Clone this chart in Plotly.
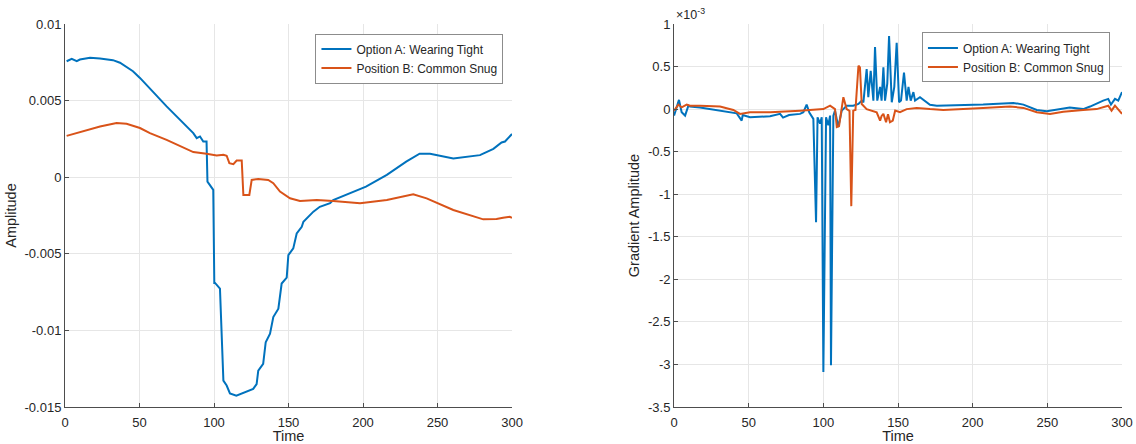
import plotly.graph_objects as go
from plotly.subplots import make_subplots

# ---------------- Left panel: Amplitude ----------------
amp_a_time = [1.1, 4.5, 7.9, 10, 16.8, 23.5, 32.2, 36.9, 45.6, 50.3, 68.2, 77.2, 86.1, 88.4,
              90.6, 92.8, 95, 95.6, 96.5, 99.5, 100.2, 100.7, 104, 106.3, 108.5, 110.7, 115,
              126.3, 128.6, 129.7, 133, 134.7, 137.6, 139.8, 143.2, 145.4, 148.8, 149.9, 153.2,
              155.5, 158.9, 160, 166.7, 171, 177.9, 180, 202, 216, 229, 238, 245, 260.6, 278.5,
              287.5, 293, 295.3, 300]
amp_a = [0.00757, 0.00773, 0.00757, 0.00768, 0.00779, 0.00775, 0.00764, 0.00747, 0.00692,
         0.00648, 0.00462, 0.00375, 0.00288, 0.00255, 0.00266, 0.00233, 0.00233, -0.00029,
         -0.00040, -0.00083, -0.0069, -0.0069, -0.00727, -0.01328, -0.0136, -0.01411, -0.01426,
         -0.01382, -0.0135, -0.01262, -0.01218, -0.01077, -0.01022, -0.00913, -0.00858,
         -0.00694, -0.00655, -0.00509, -0.00465, -0.00367, -0.00324, -0.00291, -0.00225,
         -0.00193, -0.0017, -0.00149, -0.00062, 0.00015, 0.00102, 0.00153, 0.00153, 0.00122,
         0.00144, 0.00185, 0.00227, 0.00233, 0.00282]

amp_b_time = [1.1, 7.9, 14.6, 23.5, 34.6, 41.3, 50.3, 57, 68.2, 79.4, 86.1, 95, 101.8, 106.3,
              108.5, 110.3, 113, 115.2, 118.6, 119.7, 123.7, 125.3, 129.7, 136.4, 139.8, 144.3,
              151, 157.7, 164.4, 169, 180, 198, 216, 233.7, 242.7, 260.6, 280.7, 289.6, 294,
              298.5, 300]
amp_b = [0.0027, 0.00288, 0.0031, 0.00331, 0.00354, 0.00349, 0.00321, 0.00288, 0.00244,
         0.00194, 0.00164, 0.00153, 0.00142, 0.00146, 0.0014, 0.00092, 0.00085, 0.00109,
         0.00109, -0.00116, -0.00116, -0.00018, -0.00011, -0.00018, -0.00039, -0.00094,
         -0.00138, -0.00155, -0.00151, -0.00149, -0.00155, -0.0017, -0.00149, -0.00111,
         -0.00138, -0.00214, -0.00275, -0.00273, -0.00265, -0.00258, -0.00265]

# ---------------- Right panel: Gradient amplitude (x 1e-3) ----------------
grad_a_time = [0, 3.3, 5.1, 7.4, 9.6, 10.7, 17.4, 30.8, 42, 45.3, 46, 50.9, 64.3, 71, 73, 77,
               84.4, 86.6, 88.8, 90.6, 92.2, 93.3, 95.1, 96.1, 97.8, 98.9, 100, 101.8, 103.3,
               104.5, 105.1, 106.7, 107.8, 110, 112.3, 115.6, 120, 123.5, 125.7, 126.8, 129,
               130.1, 131.7, 133.5, 134.6, 136.1, 138, 139, 140.2, 141.3, 142.8, 144, 145.8,
               147.5, 149.1, 150.7, 152, 154, 155.8, 157, 158.5, 160.3, 161.4, 164.7, 171.4,
               176, 207, 220.5, 227.2, 234, 242.9, 249.6, 265, 274, 278.6, 287.4, 290.8, 292.6,
               295.3, 297.5, 300]
grad_a = [-0.076, 0.108, -0.037, -0.076, 0.04, 0.03, 0.02, -0.018, -0.05, -0.135, -0.07,
          -0.096, -0.084, -0.056, -0.1, -0.07, -0.056, -0.037, 0.053, -0.04, -0.096, -0.115,
          -1.33, -0.096, -0.17, -0.096, -3.09, -0.096, -0.19, -0.076, -3.01, -0.076, -0.018,
          -0.21, -0.018, 0.04, 0.04, 0.06, 0.1, 0.08, 0.47, 0.14, 0.45, 0.1, 0.73, 0.1, 0.26,
          0.1, 0.49, 0.1, 0.3, 0.86, 0.08, 0.26, 0.78, 0.08, 0.1, 0.43, 0.1, 0.26, 0.1, 0.2,
          0.1, 0.14, 0.05, 0.04, 0.053, 0.07, 0.073, 0.053, -0.01, -0.025, 0.02, 0.0, 0.03,
          0.1, 0.12, 0.053, 0.12, 0.1, 0.2]

grad_b_time = [0, 2.9, 5.1, 8.5, 10.7, 17.4, 30.8, 39.7, 44.2, 50.9, 64.3, 77.7, 84.4, 91,
               100, 104.5, 107.8, 109, 110.5, 113.4, 115.6, 117.5, 118.7, 120, 121.5, 123.5,
               124.5, 125.7, 129, 135.7, 138, 139, 140.2, 142, 143.3, 144.6, 146.5, 148.1,
               151.3, 155.8, 162.5, 171.4, 180.3, 207, 225, 234, 242.9, 251.8, 260.7, 274, 283,
               290.8, 293, 295.3, 300]
grad_b = [-0.018, 0.053, 0.02, 0.053, 0.04, 0.04, 0.03, -0.01, -0.056, -0.037, -0.037, -0.03,
          -0.018, -0.01, 0.0, 0.04, 0.0, -0.21, -0.2, 0.14, 0.0, -0.02, -1.14, -0.018, -0.01,
          0.51, 0.49, 0.06, 0.0, -0.037, -0.135, -0.08, -0.056, -0.155, -0.06, -0.155,
          -0.135, -0.018, -0.037, 0.0, 0.014, 0.0, -0.01, 0.014, 0.03, 0.014, -0.037, -0.056,
          -0.03, -0.01, 0.0, 0.04, -0.018, 0.04, -0.056]

name_a = "Option A: Wearing Tight"
name_b = "Position B: Common Snug"
blue = "#0072BD"
orange = "#D95319"

fig = make_subplots(rows=1, cols=2)

fig.add_trace(go.Scatter(x=amp_a_time, y=amp_a, mode="lines", name=name_a,
                         line=dict(color=blue, width=2), legend="legend"), row=1, col=1)
fig.add_trace(go.Scatter(x=amp_b_time, y=amp_b, mode="lines", name=name_b,
                         line=dict(color=orange, width=2), legend="legend"), row=1, col=1)
fig.add_trace(go.Scatter(x=grad_a_time, y=grad_a, mode="lines", name=name_a,
                         line=dict(color=blue, width=2), legend="legend2"), row=1, col=2)
fig.add_trace(go.Scatter(x=grad_b_time, y=grad_b, mode="lines", name=name_b,
                         line=dict(color=orange, width=2), legend="legend2"), row=1, col=2)

font_family = "Liberation Sans, Arial, Helvetica, sans-serif"
axis_color = "#4d4d4d"
grid_color = "#e6e6e6"
text_color = "#262626"

common_x = dict(range=[0, 300], tickvals=[0, 50, 100, 150, 200, 250, 300],
                showgrid=True, gridcolor=grid_color, showline=True, linecolor=axis_color,
                linewidth=1, ticks="inside", ticklen=4, tickcolor=axis_color, zeroline=False,
                automargin=False, ticklabelstandoff=3,
                tickfont=dict(size=13, color=text_color),
                title=dict(text="Time", font=dict(size=14.5, color=text_color), standoff=2))

fig.update_xaxes(domain=[0.0, 0.4229], **common_x, row=1, col=1)
fig.update_xaxes(domain=[0.5762, 1.0], **common_x, row=1, col=2)

common_y = dict(showgrid=True, gridcolor=grid_color, showline=True, linecolor=axis_color,
                linewidth=1, ticks="inside", ticklen=4, tickcolor=axis_color, zeroline=False,
                automargin=False, tickfont=dict(size=13, color=text_color))

fig.update_yaxes(range=[-0.015, 0.01],
                 tickvals=[-0.015, -0.01, -0.005, 0, 0.005, 0.01],
                 ticktext=["-0.015", "-0.01", "-0.005", "0", "0.005", "0.01"],
                 title=dict(text="Amplitude", font=dict(size=14.5, color=text_color), standoff=4),
                 **common_y, row=1, col=1)
fig.update_yaxes(range=[-3.5, 1.0],
                 tickvals=[-3.5, -3, -2.5, -2, -1.5, -1, -0.5, 0, 0.5, 1],
                 ticktext=["-3.5", "-3", "-2.5", "-2", "-1.5", "-1", "-0.5", "0", "0.5", "1"],
                 title=dict(text="Gradient Amplitude", font=dict(size=14.5, color=text_color),
                            standoff=4),
                 **common_y, row=1, col=2)

legend_style = dict(bgcolor="white", bordercolor="#8c8c8c", borderwidth=1,
                    font=dict(size=12, color=text_color, family=font_family),
                    xanchor="right", yanchor="top", tracegroupgap=0, itemwidth=30)

fig.update_layout(
    width=1136, height=444,
    margin=dict(l=65, r=14, t=24, b=37),
    paper_bgcolor="white", plot_bgcolor="white",
    font=dict(family=font_family, color=text_color),
    showlegend=True,
    legend=dict(x=0.4148, y=0.975, **legend_style),
    legend2=dict(x=0.9886, y=0.978, **legend_style),
    annotations=[dict(text="×10<sup>-3</sup>", xref="paper", yref="paper",
                      x=0.5762, y=1.0, xanchor="left", yanchor="bottom",
                      showarrow=False, font=dict(size=12.5, color=text_color))],
)

fig.write_html("out.html")
